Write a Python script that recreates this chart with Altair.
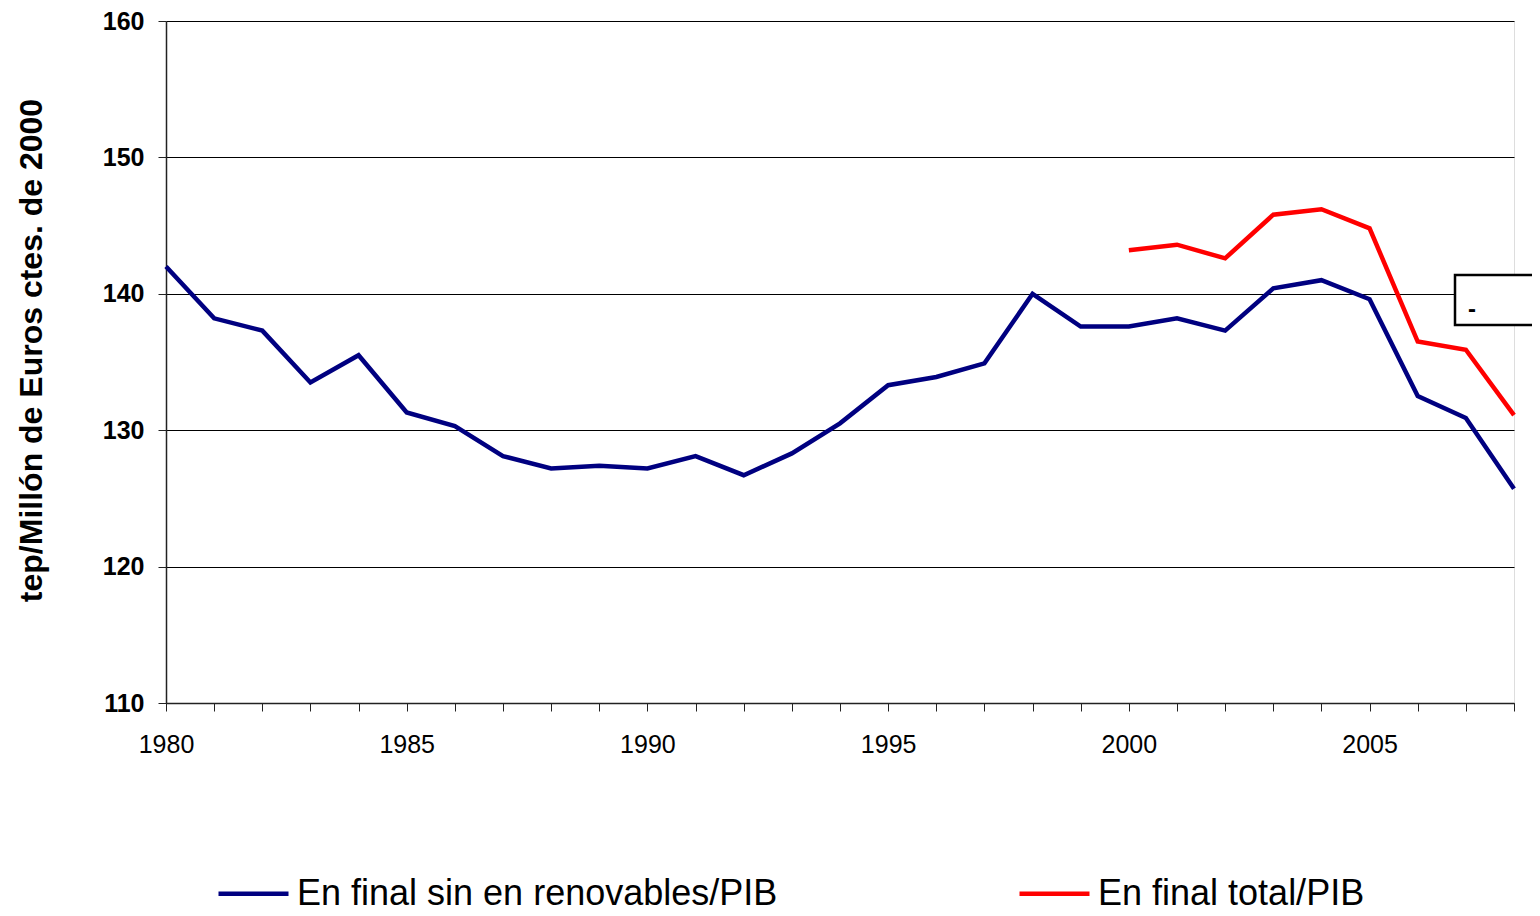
import altair as alt
import pandas as pd

years_blue = list(range(1980, 2009))
blue_vals = [142.0, 138.2, 137.3, 133.5, 135.5, 131.3, 130.3, 128.1, 127.2, 127.4,
             127.2, 128.1, 126.7, 128.3, 130.5, 133.3, 133.9, 134.9, 140.0, 137.6,
             137.6, 138.2, 137.3, 140.4, 141.0, 139.6, 132.5, 130.9, 125.7]
years_red = list(range(2000, 2009))
red_vals = [143.2, 143.6, 142.6, 145.8, 146.2, 144.8, 136.5, 135.9, 131.1]

serie_blue = "En final sin en renovables/PIB"
serie_red = "En final total/PIB"
y_ticks = [110, 120, 130, 140, 150, 160]
x_ticks = list(range(1980, 2009))

df = pd.concat([
    pd.DataFrame({"year": years_blue, "value": blue_vals, "serie": serie_blue}),
    pd.DataFrame({"year": years_red, "value": red_vals, "serie": serie_red}),
])

FONT = "Liberation Sans"

lines = alt.Chart(df).mark_line(strokeWidth=4.5, strokeJoin="miter").encode(
    x=alt.X("year:Q",
            scale=alt.Scale(domain=[1980, 2008], nice=False, zero=False),
            axis=alt.Axis(values=x_ticks, title=None, grid=False,
                          labelExpr="datum.value % 5 == 0 ? '' + datum.value : ''",
                          labelFont=FONT, labelFontSize=25, labelFontWeight="normal",
                          labelColor="black", labelPadding=21, tickSize=8,
                          tickColor="#222", domainColor="#222", domainWidth=1.5,
                          labelFlush=False, labelOverlap=False)),
    y=alt.Y("value:Q",
            scale=alt.Scale(domain=[110, 160], nice=False, zero=False),
            axis=alt.Axis(values=y_ticks, title="tep/Millón de Euros ctes. de 2000",
                          grid=True, gridColor="#000", gridWidth=1,
                          labelFont=FONT, labelFontSize=25, labelFontWeight="bold",
                          labelColor="black", labelPadding=14, tickSize=8,
                          tickColor="#222", domainColor="#222", domainWidth=1.5,
                          titleFont=FONT, titleFontSize=32, titleFontWeight="bold",
                          titleColor="black", titleX=-135, titleY=329,
                          titleAngle=270, titleAlign="center", titleBaseline="middle")),
    color=alt.Color("serie:N",
                    scale=alt.Scale(domain=[serie_blue, serie_red],
                                    range=["#000080", "#FF0000"]),
                    legend=alt.Legend(title=None, orient="none", legendX=50, legendY=835,
                                      direction="horizontal", symbolType="stroke",
                                      symbolSize=4900, symbolStrokeWidth=4.5,
                                      labelFont=FONT, labelFontSize=36,
                                      labelColor="black", labelLimit=1000,
                                      labelOffset=6, columnPadding=232)),
)

box = alt.Chart(pd.DataFrame({"k": [0]})).mark_rect(
    fill="white", stroke="black", strokeWidth=2.5
).encode(x=alt.value(1289), x2=alt.value(1390), y=alt.value(254), y2=alt.value(304))

dash = alt.Chart(pd.DataFrame({"t": ["-"]})).mark_text(
    font=FONT, fontSize=24, fontWeight="bold", color="black"
).encode(x=alt.value(1306), y=alt.value(289), text="t:N")

chart = alt.layer(lines, box, dash).properties(
    width=1348, height=682,
    padding={"left": 158, "top": 13, "right": 18, "bottom": 205},
    autosize=alt.AutoSizeParams(type="none"),
).configure_view(stroke="#8a8a8a", strokeWidth=2).configure(background="white")

chart.save("out.html", embed_options={"renderer": "svg", "actions": False})
